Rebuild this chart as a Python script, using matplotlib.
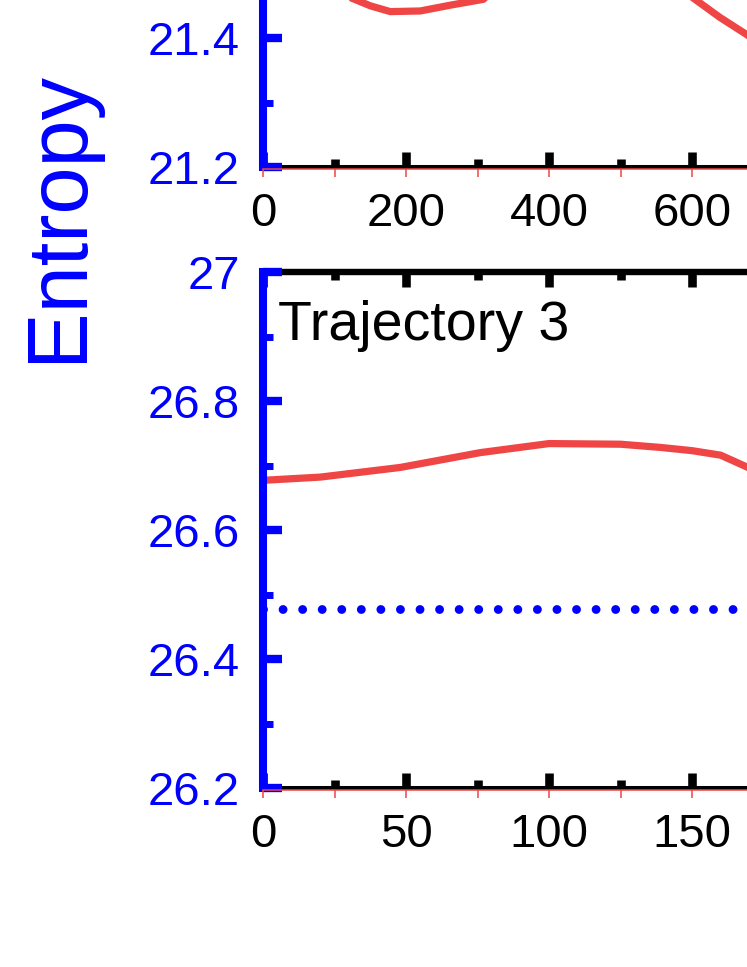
import matplotlib
matplotlib.use('Agg')
import matplotlib.pyplot as plt
from matplotlib.ticker import MultipleLocator, FormatStrFormatter

plt.rcParams['font.family'] = ['Liberation Sans', 'DejaVu Sans']

# ---------------- data ----------------
# upper panel (only its lower-left part is visible)
top_time = [100, 126, 150, 178, 220, 262, 308, 450, 603, 639, 677, 720]
top_entropy = [21.50, 21.461, 21.450, 21.441, 21.442, 21.451, 21.460, 21.60,
               21.461, 21.432, 21.405, 21.37]
top_xlim = (0, 676.9)
top_ylim = (21.2, 21.459)

# lower panel: Trajectory 3 (right part cut off)
bot_time = [0, 20, 48, 76, 100, 125, 139, 150, 160, 170, 180]
bot_entropy = [26.677, 26.682, 26.697, 26.720, 26.734, 26.733, 26.728,
               26.723, 26.716, 26.696, 26.670]
bot_ref_time = [0, 250]
bot_ref_entropy = [26.477, 26.477]
bot_xlim = (0, 169.2)
bot_ylim = (26.2, 27.0)

panel_label = "Trajectory 3"
y_label = "Entropy"

# ---------------- layout ----------------
W, H = 747, 967
fig = plt.figure(figsize=(W / 100, H / 100), dpi=100)

RED = '#F04545'
BLUE = '#0000FF'


def px_rect(left, top, width, height):
    return [left / W, 1 - (top + height) / H, width / W, height / H]


def style_axes(ax, xmajor, xminor, ymajor, yminor, xlim, ylim, show_top):
    ax.set_xlim(*xlim)
    ax.set_ylim(*ylim)
    ax.set_axisbelow(False)
    ax.xaxis.set_major_locator(MultipleLocator(xmajor))
    ax.xaxis.set_minor_locator(MultipleLocator(xminor))
    ax.yaxis.set_major_locator(MultipleLocator(ymajor))
    ax.yaxis.set_minor_locator(MultipleLocator(yminor))
    ax.yaxis.set_major_formatter(FormatStrFormatter('%g'))
    ax.xaxis.set_major_formatter(FormatStrFormatter('%g'))

    ax.spines['left'].set_color(BLUE)
    ax.spines['left'].set_linewidth(5.8)
    ax.spines['left'].set_zorder(2.6)
    ax.spines['bottom'].set_color('black')
    ax.spines['bottom'].set_linewidth(2.9)
    ax.spines['top'].set_color('black')
    ax.spines['top'].set_linewidth(4.6)
    ax.spines['top'].set_visible(show_top)
    ax.spines['right'].set_visible(False)

    ax.tick_params(axis='y', which='major', direction='in', length=13.7,
                   width=6, colors=BLUE, labelcolor=BLUE, labelsize=34,
                   pad=16.5, right=False)
    ax.tick_params(axis='y', which='minor', direction='in', length=7.4,
                   width=5, colors=BLUE, right=False)
    ax.tick_params(axis='x', which='major', direction='in', length=11,
                   width=6.2, color='black', labelcolor='black',
                   labelsize=34, pad=18, top=show_top)
    ax.tick_params(axis='x', which='minor', direction='in', length=5.8,
                   width=6.2, color='black', top=show_top)

    # thin red time axis just below the black one
    axr = fig.add_axes(ax.get_position(), sharex=ax)
    axr.patch.set_visible(False)
    for s in ['left', 'right', 'top']:
        axr.spines[s].set_visible(False)
    axr.spines['bottom'].set_color(RED)
    axr.spines['bottom'].set_linewidth(1.1)
    axr.spines['bottom'].set_position(('outward', 1.7))
    axr.tick_params(axis='x', which='both', direction='out', length=6,
                    width=1.1, color=RED, labelbottom=False)
    axr.set_yticks([])
    return axr


# upper panel
ax1 = fig.add_axes(px_rect(263, 0, W - 263, 167))
ax1.plot(top_time, top_entropy, color=RED, lw=5.2, solid_joinstyle='round')
style_axes(ax1, 200, 100, 0.2, 0.1, top_xlim, top_ylim, False)

# lower panel
ax2 = fig.add_axes(px_rect(263, 272, W - 263, 516))
ax2.plot(bot_time, bot_entropy, color=RED, lw=5.2, solid_joinstyle='round')
ax2.plot(bot_ref_time, bot_ref_entropy, color=BLUE, lw=6.4,
         linestyle=(0, (0.001, 2.2)), dash_capstyle='round')
style_axes(ax2, 50, 25, 0.2, 0.1, bot_xlim, bot_ylim, True)

fig.text(278 / W, 1 - 340 / H, panel_label, fontsize=40, color='black',
         ha='left', va='baseline')
fig.text(58.5 / W, 1 - 216 / H, y_label, fontsize=61, color=BLUE,
         rotation=90, ha='center', va='center')

fig.savefig('out.png', dpi=100)
